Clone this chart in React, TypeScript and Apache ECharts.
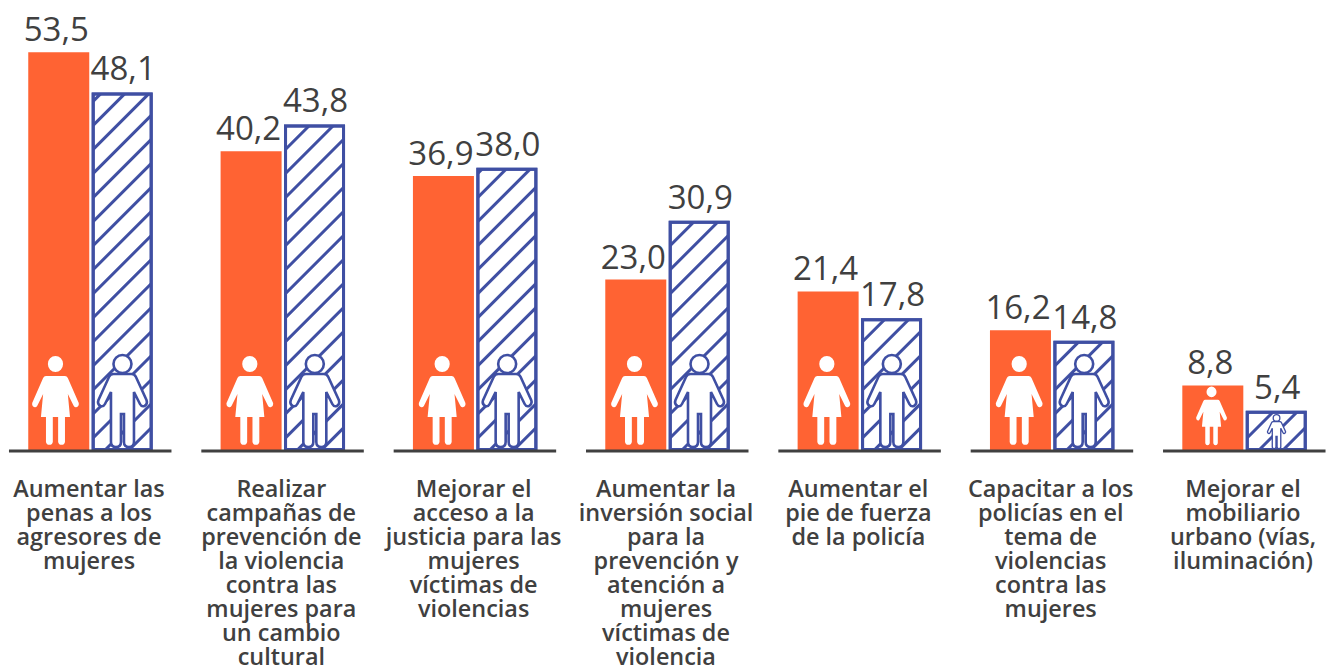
import React, { useEffect, useRef } from "react";
import * as echarts from "echarts";

const categories = [
  "Aumentar las\npenas a los\nagresores de\nmujeres",
  "Realizar\ncampañas de\nprevención de\nla violencia\ncontra las\nmujeres para\nun cambio\ncultural",
  "Mejorar el\nacceso a la\njusticia para las\nmujeres\nvíctimas de\nviolencias",
  "Aumentar la\ninversión social\npara la\nprevención y\natención a\nmujeres\nvíctimas de\nviolencia",
  "Aumentar el\npie de fuerza\nde la policía",
  "Capacitar a los\npolicías en el\ntema de\nviolencias\ncontra las\nmujeres",
  "Mejorar el\nmobiliario\nurbano (vías,\niluminación)",
];
const womenValues = [53.5, 40.2, 36.9, 23.0, 21.4, 16.2, 8.8];
const menValues = [48.1, 43.8, 38.0, 30.9, 17.8, 14.8, 5.4];

const ORANGE = "#ff6333";
const BLUE = "#3f4fa3";
const INK = "#404040";

const womanPath =
  "M8,8A8,8 0 1 1 -8,8A8,8 0 1 1 8,8Z" +
  "M-10,20L10,20Q12,20 13,22L24.5,47Q25,50 22.5,51Q20,52 19,49.5L13,38L15.3,61L10,61L10,86A3.7,3.7 0 0 1 2.8,86L2.8,61L-2.8,61L-2.8,86A3.7,3.7 0 0 1 -10,86L-10,61L-15.3,61L-13,38L-19,49.5Q-20,52 -22.5,51Q-25,50 -24.5,47L-13,22Q-12,20 -10,20Z";
const manBody =
  "M-9,20L9,20Q12,20 13.5,23L24,46Q25.5,50 22,52Q19,53 17.5,50L11.5,38L11.5,88Q11.5,93 6.5,93Q1.5,93 1.5,88L1.5,60L-1.5,60L-1.5,88Q-1.5,93 -6.5,93Q-11.5,93 -11.5,88L-11.5,38L-17.5,50Q-19,53 -22,52Q-25.5,50 -24,46L-13.5,23Q-12,20 -9,20Z";
const manHead = "M9,10A9,9 0 1 1 -9,10A9,9 0 1 1 9,10Z";

const fmt = (p: any) => Number(p.value).toFixed(1).replace(".", ",");

const barLabel = {
  show: true,
  position: "top" as const,
  distance: 6,
  formatter: fmt,
  fontFamily: "Open Sans",
  fontSize: 33,
  color: INK,
};

export default function App() {
  const ref = useRef<HTMLDivElement>(null);
  useEffect(() => {
    const chart = echarts.init(ref.current!, undefined, { renderer: "svg" });
    chart.setOption({
      animation: false,
      grid: { left: -5.7, width: 1346.4, top: 0, height: 451, outerBoundsMode: "none", containLabel: false },
      xAxis: {
        type: "category",
        data: categories,
        axisLine: { show: false },
        axisTick: { show: false },
        axisLabel: {
          interval: 0,
          margin: 25,
          padding: [0, 3, 0, 0],
          fontFamily: "Open Sans",
          fontWeight: 600,
          fontSize: 23.4,
          lineHeight: 24,
          color: INK,
          align: "center",
        },
      },
      yAxis: { type: "value", min: 0, max: 60.5, show: false },
      series: [
        {
          type: "bar",
          data: womenValues,
          barWidth: 61,
          barGap: "4%",
          itemStyle: { color: ORANGE },
          label: { ...barLabel, offset: [-2.5, -1] },
        },
        {
          type: "bar",
          data: menValues,
          barWidth: 61,
          itemStyle: {
            color: "#fff",
            borderColor: BLUE,
            borderWidth: 3,
            decal: {
              symbol: "rect",
              color: BLUE,
              backgroundColor: "#fff",
              rotation: -Math.PI / 4,
              dashArrayX: [[1, 0]],
              dashArrayY: [3, 14],
              symbolSize: 1,
            },
          },
          label: { ...barLabel, distance: 7, offset: [1, -1] },
        },
        {
          type: "custom",
          z: 5,
          clip: false,
          silent: true,
          data: categories.map((_, i) => [i, 0]),
          encode: { x: 0, y: 1 },
          renderItem: (_: any, api: any) => {
            const i = api.value(0);
            const [cx, base] = api.coord([i, 0]);
            const small = i === categories.length - 1;
            const ws = small ? 0.66 : 1;
            const ms = small ? 0.37 : 1;
            const wx = cx - 33 + (i === 0 ? -2 : 0);
            const mx = cx + 32;
            const wy = base - 5 - 90 * ws;
            const my = base - (small ? 2 : 3) - 94 * ms;
            const manStyle = {
              fill: "#fff",
              stroke: BLUE,
              lineWidth: small ? 3.6 : 2.6,
            };
            return {
              type: "group",
              children: [
                {
                  type: "path",
                  x: wx,
                  y: wy,
                  scaleX: ws * 0.95,
                  scaleY: ws,
                  shape: { pathData: womanPath },
                  style: { fill: "#fff" },
                },
                {
                  type: "path",
                  x: mx,
                  y: my,
                  scaleX: ms,
                  scaleY: ms,
                  shape: { pathData: manBody },
                  style: manStyle,
                },
                {
                  type: "path",
                  x: mx,
                  y: my,
                  scaleX: ms,
                  scaleY: ms,
                  shape: { pathData: manHead },
                  style: manStyle,
                },
                {
                  type: "line",
                  shape: { x1: cx - 81.5, y1: base, x2: cx + 81, y2: base },
                  style: { stroke: INK, lineWidth: 3 },
                },
              ],
            };
          },
        },
      ],
    });
    return () => chart.dispose();
  }, []);
  return (
    <div
      ref={ref}
      style={{ position: "absolute", left: 0, top: 0, width: 1328, height: 666 }}
    />
  );
}
